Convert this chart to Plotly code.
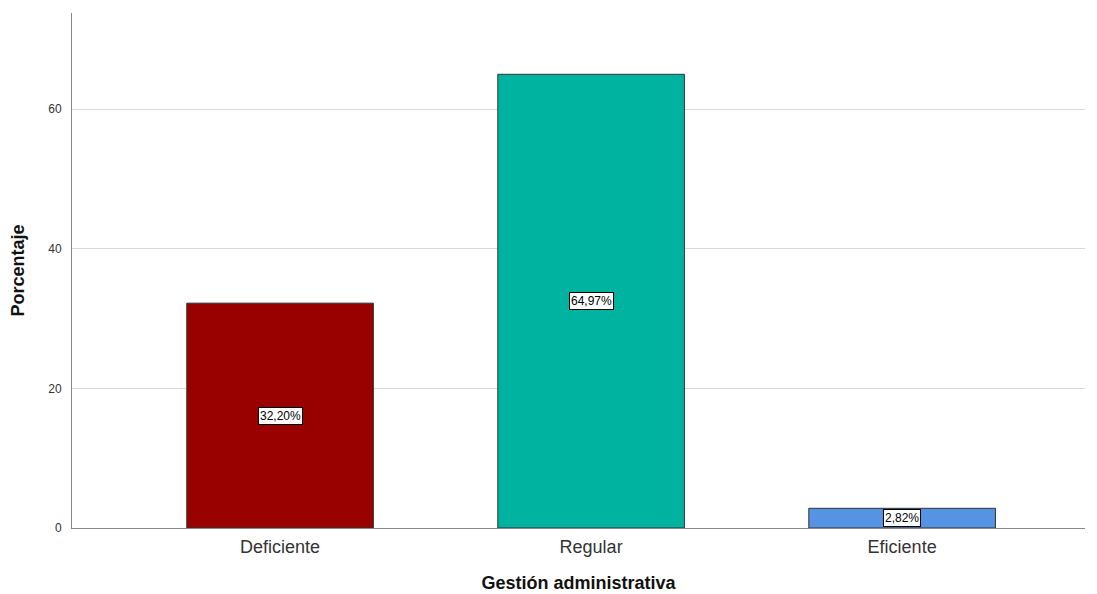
import plotly.graph_objects as go

categories = ["Deficiente", "Regular", "Eficiente"]
values = [32.20, 64.97, 2.82]
labels = ["32,20%", "64,97%", "2,82%"]
colors = ["#990000", "#00B2A0", "#5593E3"]
y_ticks = [0, 20, 40, 60]

xpos = list(range(len(categories)))

fig = go.Figure()
fig.add_trace(go.Bar(
    x=xpos, y=values, width=0.6,
    marker=dict(color=colors, line=dict(color="#333333", width=1)),
    hoverinfo="skip", showlegend=False,
))

for xi, v, lab in zip(xpos, values, labels):
    fig.add_annotation(
        x=xi, y=v / 2, text=lab, showarrow=False,
        font=dict(family="Liberation Sans, Arial", size=12, color="#000000"),
        bgcolor="white", bordercolor="#000000", borderwidth=1, borderpad=1,
    )

fig.update_layout(
    width=1097, height=594,
    margin=dict(l=72, r=12, t=13, b=66),
    paper_bgcolor="white", plot_bgcolor="white",
    font=dict(family="Liberation Sans, Arial", color="#222222"),
    xaxis=dict(
        range=[-0.669, 2.588], tickvals=xpos, ticktext=categories,
        tickfont=dict(size=18, color="#333333"),
        showgrid=False, zeroline=False,
        showline=True, linecolor="#888888", linewidth=1,
        ticks="", ticklabelstandoff=2, automargin=False,
        title=dict(text="<b>Gestión administrativa</b>", font=dict(size=18, color="#111111"), standoff=20),
    ),
    yaxis=dict(
        range=[0, 73.75], tickvals=y_ticks,
        tickfont=dict(size=12, color="#333333"),
        showgrid=True, gridcolor="#D9D9D9", gridwidth=1,
        zeroline=False,
        showline=True, linecolor="#888888", linewidth=1,
        ticks="", ticklabelstandoff=7, automargin=False,
        title=dict(text="<b>Porcentaje</b>", font=dict(size=18, color="#111111"), standoff=18),
    ),
)

fig.write_html("out.html")
